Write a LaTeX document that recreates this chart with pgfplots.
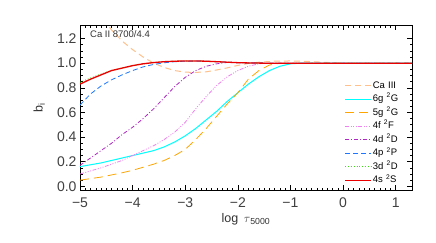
\documentclass[border=0pt]{standalone}
\usepackage{pgfplots}
\pgfplotsset{compat=1.18}
\usepackage{fontspec}
\setmainfont{Liberation Sans}
\definecolor{peach}{RGB}{255,192,140}
\definecolor{cyanl}{RGB}{0,255,255}
\definecolor{orangel}{RGB}{255,165,0}
\definecolor{violetl}{RGB}{238,130,238}
\definecolor{purplel}{RGB}{175,40,195}
\definecolor{bluel}{RGB}{30,120,255}
\definecolor{greenl}{RGB}{60,220,20}
\definecolor{redl}{RGB}{235,0,0}
\begin{document}
\begin{tikzpicture}
\path[use as bounding box] (0,0) rectangle (436pt,242pt);
\begin{axis}[
  at={(80pt,52pt)}, anchor=south west,
  width=332pt, height=165pt, scale only axis,
  xmin=-5, xmax=1.31, ymin=-0.03, ymax=1.31,
  xtick={-5,-4,-3,-2,-1,0,1},
  xticklabels={−5,−4,−3,−2,−1,0,1},
  ytick={0,0.2,0.4,0.6,0.8,1.0,1.2},
  yticklabels={0.0,0.2,0.4,0.6,0.8,1.0,1.2},
  minor x tick num=9, minor y tick num=3,
  major tick length=5pt, minor tick length=2.5pt,
  tick align=inside,
  tick style={black, line width=0.5pt},
  axis line style={black, line width=1pt},
  ticklabel style={font=\fontsize{14}{16}\selectfont, text=black!75},
  xticklabel style={yshift=-4pt},
  /pgf/number format/assume math mode=true,
  xlabel={log\, $\tau$\textsubscript{5000}},
  ylabel={b\textsubscript{i}},
  label style={font=\fontsize{12.5}{14}\selectfont, text=black!80},
  xlabel style={at={(axis description cs:0.5,-0.18)}, anchor=center},
  ylabel style={at={(axis description cs:-0.123,0.5)}, anchor=center},
  legend image code/.code={\draw[line width=1pt,#1] (0pt,0pt) -- (26pt,0pt);},
  legend cell align=left,
  legend style={at={(rel axis cs:0.788,0.68)}, anchor=north west, draw=none, fill=none,
    font=\fontsize{9.5}{10}\selectfont,
    nodes={inner sep=1pt, text height=7pt, text depth=2pt}, row sep=2.57pt, column sep=0pt},
  clip=true,
]
\addplot[color=peach, line width=1pt, dash pattern=on 6pt off 4pt] coordinates {
(-5,1.62) (-4.8,1.5) (-4.6,1.38) (-4.4,1.27) (-4.2,1.18) (-4.0,1.11) (-3.8,1.05)
(-3.6,1.0) (-3.4,0.965) (-3.2,0.94) (-3.0,0.927) (-2.8,0.925) (-2.6,0.93)
(-2.4,0.945) (-2.2,0.962) (-2.0,0.982) (-1.8,0.998) (-1.6,1.008) (-1.3,1.016)
(-1.0,1.018) (-0.7,1.015) (-0.4,1.008) (-0.1,1.002) (0.2,1.0) (1.31,1.0)};
\addlegendentry{Ca\,\,III}
\addplot[color=cyanl, line width=1pt] coordinates {
(-5,0.16) (-4.6,0.19) (-4.2,0.23) (-4.0,0.25) (-3.8,0.27) (-3.6,0.29) (-3.4,0.32)
(-3.2,0.36) (-3.0,0.41) (-2.8,0.47) (-2.6,0.54) (-2.4,0.61) (-2.2,0.69) (-2.0,0.76)
(-1.8,0.83) (-1.6,0.89) (-1.4,0.94) (-1.2,0.975) (-1.0,0.995) (-0.8,1.0) (1.31,1.0)};
\addlegendentry{6g\,\,\textsuperscript{2}G}
\addplot[color=orangel, line width=0.8pt, dash pattern=on 9pt off 5pt] coordinates {
(-5,0.05) (-4.6,0.075) (-4.2,0.11) (-4.0,0.13) (-3.8,0.155) (-3.6,0.18) (-3.4,0.21)
(-3.2,0.25) (-3.0,0.30) (-2.8,0.38) (-2.6,0.47) (-2.4,0.57) (-2.2,0.67) (-2.0,0.76)
(-1.8,0.87) (-1.6,0.94) (-1.4,0.985) (-1.2,1.0) (1.31,1.0)};
\addlegendentry{5g\,\,\textsuperscript{2}G}
\addplot[color=violetl, line width=0.8pt, dash pattern=on 4pt off 1.5pt on 1pt off 1.5pt on 1pt off 1.5pt on 1pt off 1.5pt] coordinates {
(-5,0.10) (-4.6,0.15) (-4.2,0.21) (-4.0,0.25) (-3.8,0.29) (-3.6,0.33) (-3.4,0.38)
(-3.2,0.44) (-3.0,0.52) (-2.8,0.63) (-2.6,0.73) (-2.4,0.82) (-2.2,0.89) (-2.0,0.94)
(-1.8,0.975) (-1.6,0.995) (-1.4,1.0) (1.31,1.0)};
\addlegendentry{4f\,\,\textsuperscript{2}F}
\addplot[color=purplel, line width=0.8pt, dash pattern=on 4pt off 2pt on 1pt off 2pt] coordinates {
(-5,0.17) (-4.8,0.23) (-4.6,0.29) (-4.4,0.35) (-4.2,0.42) (-4.0,0.48) (-3.8,0.55)
(-3.6,0.63) (-3.4,0.72) (-3.2,0.81) (-3.0,0.885) (-2.8,0.94) (-2.6,0.975) (-2.4,0.995)
(-2.2,1.006) (-2.0,1.005) (-1.5,1.0) (1.31,1.0)};
\addlegendentry{4d\,\,\textsuperscript{2}D}
\addplot[color=bluel, line width=0.8pt, dash pattern=on 5pt off 3pt] coordinates {
(-5,0.66) (-4.8,0.75) (-4.6,0.815) (-4.4,0.865) (-4.2,0.905) (-4.0,0.94) (-3.8,0.97)
(-3.6,0.99) (-3.4,1.003) (-3.2,1.012) (-3.0,1.016) (-2.8,1.017) (-2.6,1.016)
(-2.4,1.012) (-2.2,1.008) (-2.0,1.004) (-1.8,1.002) (-1.5,1.0) (1.31,1.0)};
\addlegendentry{4p\,\,\textsuperscript{2}P}
\addplot[color=greenl, line width=0.8pt, dotted] coordinates {
(-5,0.845) (-4.8,0.88) (-4.6,0.912) (-4.4,0.942) (-4.2,0.961) (-4.0,0.98) (-3.8,0.995)
(-3.6,1.005) (-3.4,1.012) (-3.2,1.016) (-3.0,1.018) (-2.8,1.018) (-2.6,1.016)
(-2.4,1.012) (-2.2,1.008) (-2.0,1.004) (-1.8,1.002) (-1.5,1.0) (1.31,1.0)};
\addlegendentry{3d\,\,\textsuperscript{2}D}
\addplot[color=redl, line width=1.3pt] coordinates {
(-5,0.83) (-4.8,0.87) (-4.6,0.905) (-4.4,0.94) (-4.2,0.96) (-4.0,0.98) (-3.8,0.995)
(-3.6,1.005) (-3.4,1.012) (-3.2,1.016) (-3.0,1.018) (-2.8,1.018) (-2.6,1.016)
(-2.4,1.012) (-2.2,1.008) (-2.0,1.004) (-1.8,1.002) (-1.5,1.0) (1.31,1.0)};
\addlegendentry{4s\,\,\textsuperscript{2}S}
\node[anchor=north west, font=\fontsize{9.5}{11}\selectfont, text=black!80, inner sep=0pt]
  at (rel axis cs:0.03,0.965) {Ca II 8700/4.4};
\end{axis}
\end{tikzpicture}
\end{document}
